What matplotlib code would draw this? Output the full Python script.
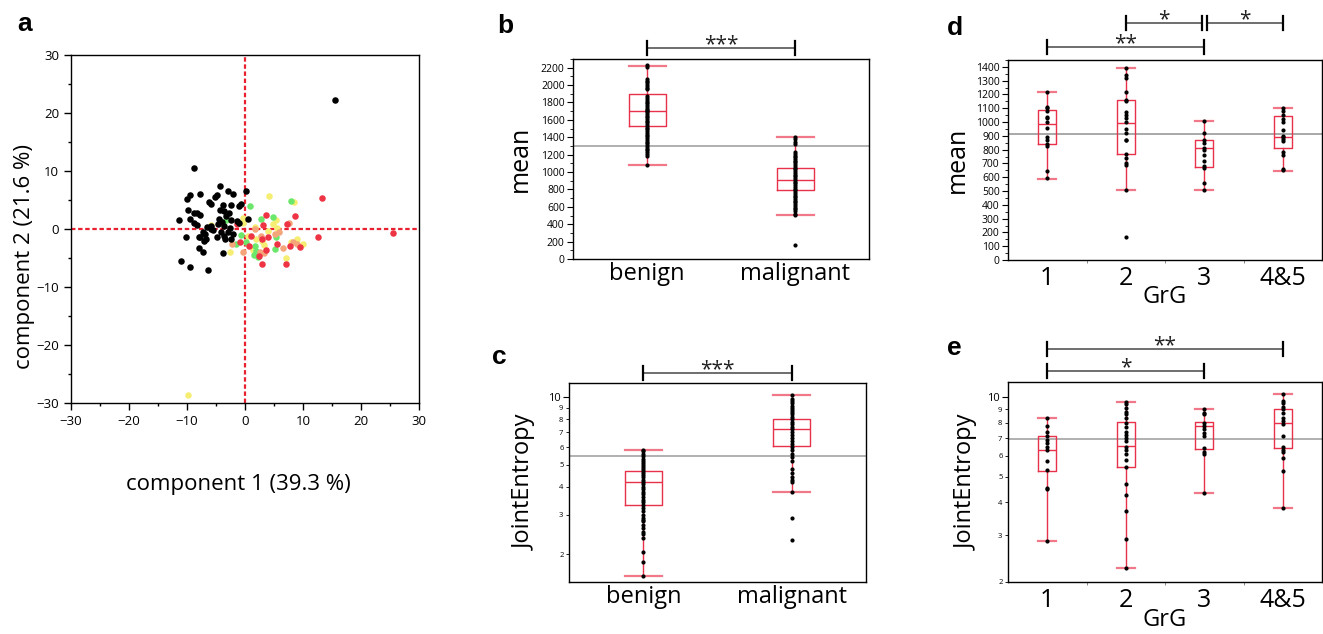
import matplotlib
matplotlib.use("Agg")
import matplotlib.pyplot as plt
from matplotlib.transforms import blended_transform_factory
from matplotlib.ticker import FixedLocator, MultipleLocator

plt.rcParams['font.family'] = ['Open Sans', 'DejaVu Sans']

# ---------------- Panel a data (PCA scores) ----------------
black_x = [15.6, -8.85, -4.25, 0.1, -2.9, -2.1, -4.8, -5.1, -7.8, -9.5, -10.0, -6.15, -5.9,
           -3.8, -2.4, -0.75, -1.0, -9.9, -8.8, -8.2, -7.8, -4.3, -3.6, -2.8, -11.4, -9.5,
           -4.5, -3.9, -2.4, -1.3, -1.0, 0.6, -8.8, -8.2, -6.6, -5.8, -3.6, -2.6, -5.6, -5.9,
           -7.2, -6.9, -7.9, -7.7, -10.1, -4.9, -3.7, -3.4, -2.5, -7.1, -6.7, -7.9, -7.2,
           -3.8, -11.0, -9.5, -6.4, -4.2, -3.0, -3.2, -4.6, -2.0]
black_y = [22.3, 10.6, 7.5, 6.55, 6.55, 6.0, 5.9, 5.5, 6.0, 5.8, 5.2, 4.7, 4.3,
           4.1, 4.2, 4.25, 4.0, 3.3, 2.8, 2.7, 2.5, 3.3, 3.1, 2.8, 1.6, 1.8,
           1.7, 1.2, 1.6, 1.4, 1.0, 1.8, 1.0, 0.75, 0.4, 0.5, 0.5, 0.2, -0.2, 0.0,
           -0.6, -0.9, -1.3, -1.4, -1.3, -1.3, -1.2, -1.7, -1.8, -2.1, -1.8, -3.3, -4.0,
           -4.2, -5.5, -6.5, -7.0, -0.6, -0.5, 2.2, 0.9, -0.9]
yellow_x = [4.1, 8.5, -0.35, -0.4, 1.8, 4.8, 5.4, 4.0, 5.6, 1.95, 3.0, 3.3, 1.4, -2.6,
            7.9, 9.0, 10.0, 7.1, -9.9, 0.5, -5.9]
yellow_y = [5.7, 4.65, 1.95, 1.0, 0.4, 0.9, 1.55, -0.35, 0.1, -1.65, -2.1, -2.8, -3.6, -4.0,
            -2.2, -1.8, -2.5, -5.0, -28.6, -1.2, 0.7]
green_x = [0.9, 7.9, 4.8, 2.8, -3.2, -0.7, 0.2, -1.6, 1.7, 1.95, 1.55, 2.2, 5.3, 5.1]
green_y = [3.9, 4.9, 2.1, 1.7, 1.5, -1.1, -2.2, -2.5, -2.9, -3.8, -4.4, -4.9, -1.4, -3.5]
orange_x = [1.8, 2.7, 5.2, 5.9, 7.5, -2.3, -0.35, 2.6, 3.3, 6.5, 8.2, 8.9]
orange_y = [-0.06, -1.2, -0.8, -0.5, 1.0, -2.5, -4.0, -4.0, -4.2, -3.3, -2.2, -2.5]
red_x = [13.2, 3.7, 8.7, 3.05, 7.3, 1.0, 2.9, 4.0, -0.9, 0.7, 3.7, 5.6, 7.7, 9.4, 2.4,
         2.9, 7.0, 12.5, 25.6, -1.3]
red_y = [5.4, 2.4, 2.3, 0.75, 0.8, -1.2, -1.8, -1.3, -2.2, -2.9, -3.6, -2.5, -2.9, -3.1,
         -4.7, -6.0, -6.0, -1.4, -0.7, 0.9]

# ---------------- Panel b data (mean, benign vs malignant) ----------------
bm_categories = ['benign', 'malignant']
b_benign = [2230, 2210, 2070, 2050, 2030, 2010, 1990, 1970, 1950, 1870, 1850, 1830, 1810,
            1790, 1770, 1750, 1730, 1710, 1700, 1690, 1670, 1650, 1630, 1610, 1590, 1570,
            1550, 1530, 1510, 1490, 1470, 1450, 1430, 1410, 1390, 1370, 1350, 1330, 1310,
            1290, 1270, 1250, 1230, 1210, 1180, 1080]
b_malignant = [1400, 1380, 1340, 1320, 1230, 1210, 1190, 1170, 1150, 1130, 1110, 1090,
               1070, 1050, 1030, 1010, 990, 970, 950, 930, 910, 890, 870, 850, 830, 810,
               790, 770, 750, 730, 710, 690, 670, 650, 630, 610, 590, 570, 550, 520, 510, 165]
b_stats = {  # q1, median, q3, whisker low, whisker high
    'benign': (1530, 1700, 1900, 1080, 2220),
    'malignant': (790, 910, 1050, 510, 1400),
}
b_grand_mean = 1300

# ---------------- Panel c data (JointEntropy, benign vs malignant) ----------------
c_benign = [5.85, 5.75, 5.6, 5.5, 5.3, 5.2, 5.1, 5.0, 4.9, 4.8, 4.7, 4.6, 4.5, 4.4, 4.3,
            4.2, 4.1, 4.0, 3.9, 3.8, 3.7, 3.6, 3.5, 3.4, 3.3, 3.2, 3.1, 3.0, 2.9, 2.85,
            2.8, 2.7, 2.6, 2.5, 2.45, 2.35, 2.05, 1.85, 1.6]
c_malignant = [10.3, 9.8, 9.6, 9.4, 9.2, 9.0, 8.8, 8.6, 8.4, 8.2, 8.0, 7.8, 7.6, 7.4, 7.2,
               7.0, 6.8, 6.6, 6.4, 6.2, 6.0, 5.8, 5.6, 5.4, 5.2, 4.8, 4.6, 4.4, 4.3, 4.2,
               3.8, 2.9, 2.3]
c_stats = {
    'benign': (3.3, 4.2, 4.7, 1.6, 5.85),
    'malignant': (6.1, 7.2, 8.0, 3.8, 10.3),
}
c_grand_mean = 5.47

# ---------------- Panel d data (mean by GrG) ----------------
grg_categories = ['1', '2', '3', '4&5']
d_values = {
    '1': [1215, 1110, 1100, 1080, 1040, 1030, 1000, 960, 890, 870, 840, 830, 645, 595],
    '2': [1395, 1340, 1320, 1220, 1160, 1150, 1070, 1050, 1030, 1000, 950, 920, 870, 870,
          770, 740, 700, 690, 510, 165],
    '3': [1010, 920, 870, 850, 810, 800, 760, 720, 680, 670, 560, 510],
    '4&5': [1100, 1080, 1050, 1020, 1000, 940, 900, 890, 880, 860, 780, 760, 660, 650],
}
d_stats = {
    '1': (840, 985, 1090, 590, 1215),
    '2': (765, 995, 1160, 510, 1395),
    '3': (675, 810, 870, 510, 1010),
    '4&5': (810, 895, 1045, 645, 1100),
}
d_grand_mean = 910

# ---------------- Panel e data (JointEntropy by GrG) ----------------
e_values = {
    '1': [8.3, 7.8, 7.4, 7.1, 6.9, 6.7, 6.5, 6.3, 5.75, 5.3, 4.55, 4.5, 2.85],
    '2': [9.6, 9.4, 9.1, 8.8, 8.6, 8.3, 8.0, 7.7, 7.4, 7.2, 7.0, 6.8, 6.5, 6.3, 6.1, 5.8,
          5.45, 4.7, 4.25, 3.7, 2.9, 2.25],
    '3': [9.05, 8.7, 8.6, 8.0, 7.8, 7.6, 7.3, 7.1, 6.4, 6.2, 6.1, 4.35],
    '4&5': [10.3, 9.7, 9.5, 9.2, 9.0, 8.7, 8.3, 8.1, 7.9, 7.1, 6.5, 6.3, 6.2, 5.9, 5.25, 3.8],
}
e_stats = {
    '1': (5.25, 6.3, 7.15, 2.85, 8.3),
    '2': (5.45, 6.55, 8.05, 2.25, 9.6),
    '3': (6.35, 7.75, 8.05, 4.35, 9.05),
    '4&5': (6.4, 8.0, 9.05, 3.8, 10.3),
}
e_grand_mean = 6.92

RED = '#E8324B'
PINK = '#F07888'
GRAY = '#AAAAAA'

W, H = 1323, 634
fig = plt.figure(figsize=(W / 100, H / 100), dpi=100)


def px_axes(l, t, r, b):
    return fig.add_axes([l / W, 1 - b / H, (r - l) / W, (b - t) / H])


def draw_boxes(ax, cats, stats, values, width):
    st = []
    for c in cats:
        q1, med, q3, lo, hi = stats[c]
        st.append(dict(med=med, q1=q1, q3=q3, whislo=lo, whishi=hi, fliers=[]))
    pos = list(range(len(cats)))
    ax.bxp(st, positions=pos, widths=width, capwidths=width, showfliers=False,
           boxprops=dict(color=RED, lw=1.0),
           medianprops=dict(color=RED, lw=1.0),
           whiskerprops=dict(color=RED, lw=1.0),
           capprops=dict(color=PINK, lw=1.6), zorder=2)
    for p, c in zip(pos, cats):
        ax.scatter([p] * len(values[c]), values[c], s=9, color='black', zorder=3,
                   linewidths=0)
    ax.set_xlim(-0.5, len(cats) - 0.5)
    ax.set_xticks(pos)
    ax.set_xticklabels(cats)


def bracket(ax, x1, x2, y, text, fs=15):
    tr = blended_transform_factory(ax.transData, ax.transAxes)
    ax.plot([x1, x2], [y, y], color='#555555', lw=1.2, transform=tr, clip_on=False)
    for x in (x1, x2):
        ax.plot([x, x], [y - 0.035, y + 0.035], color='black', lw=1.6, transform=tr,
                clip_on=False)
    ax.text((x1 + x2) / 2, y - 0.035, text, ha='center', va='bottom', transform=tr,
            fontsize=fs, color='#222222')


# ---------------- Panel a ----------------
axa = px_axes(71, 55, 419, 403)
axa.axhline(0, color='#E8202F', ls=(0, (2, 1.2)), lw=1.6, zorder=1)
axa.axvline(0, color='#E8202F', ls=(0, (2, 1.2)), lw=1.6, zorder=1)
ms = 22
axa.scatter(black_x, black_y, s=ms, color='black', linewidths=0, zorder=3)
axa.scatter(yellow_x, yellow_y, s=ms, color='#F6EE72', linewidths=0, zorder=2)
axa.scatter(green_x, green_y, s=ms, color='#6BE86B', linewidths=0, zorder=2)
axa.scatter(orange_x, orange_y, s=ms, color='#F4A57A', linewidths=0, zorder=2)
axa.scatter(red_x, red_y, s=ms, color='#EE3344', linewidths=0, zorder=2)
axa.set_xlim(-30, 30)
axa.set_ylim(-30, 30)
axa.xaxis.set_major_locator(MultipleLocator(10))
axa.yaxis.set_major_locator(MultipleLocator(10))
axa.xaxis.set_minor_locator(MultipleLocator(5))
axa.yaxis.set_minor_locator(MultipleLocator(5))
axa.tick_params(which='major', length=5, labelsize=9.5, width=1)
axa.tick_params(which='minor', length=2.5, width=1)
axa.set_xlabel('component 1 (39.3 %)', fontsize=16)
axa.set_ylabel('component 2 (21.6 %)', fontsize=16)
axa.xaxis.set_label_coords(0.48, -0.233)
axa.yaxis.set_label_coords(-0.135, 0.42)
axa.xaxis.label.set_va('center')
axa.yaxis.label.set_va('center')
axa.yaxis.label.set_ha('center')

# ---------------- Panel b ----------------
axb = px_axes(573, 59, 869, 259)
axb.axhline(b_grand_mean, color=GRAY, lw=1.3, zorder=1)
draw_boxes(axb, bm_categories, b_stats, {'benign': b_benign, 'malignant': b_malignant}, 0.25)
axb.set_ylim(0, 2300)
axb.yaxis.set_major_locator(MultipleLocator(200))
axb.yaxis.set_minor_locator(MultipleLocator(100))
axb.tick_params(axis='y', which='major', length=4, labelsize=7.5, pad=2)
axb.tick_params(axis='y', which='minor', length=2)
axb.tick_params(axis='x', length=0, labelsize=17, pad=2)
axb.set_ylabel('mean', fontsize=18, labelpad=6)
bracket(axb, 0, 1, 1.055, '***')

# ---------------- Panel c ----------------
axc = px_axes(569, 383, 866, 582)
axc.set_yscale('log')
axc.axhline(c_grand_mean, color=GRAY, lw=1.3, zorder=1)
draw_boxes(axc, bm_categories, c_stats, {'benign': c_benign, 'malignant': c_malignant}, 0.25)
axc.set_ylim(1.5, 11.6)
axc.yaxis.set_major_locator(FixedLocator([10]))
axc.yaxis.set_minor_locator(FixedLocator([2, 3, 4, 5, 6, 7, 8, 9]))
axc.yaxis.set_major_formatter(matplotlib.ticker.FixedFormatter(['10']))
axc.yaxis.set_minor_formatter(matplotlib.ticker.FuncFormatter(lambda v, p: '%d' % round(v)))
axc.tick_params(axis='y', which='major', length=4, labelsize=8, pad=2)
axc.tick_params(axis='y', which='minor', length=2, labelsize=5.5, pad=2)
axc.tick_params(axis='x', length=0, labelsize=17, pad=2)
axc.set_ylabel('JointEntropy', fontsize=17, labelpad=8)
bracket(axc, 0, 1, 1.049, '***')

# ---------------- Panel d ----------------
axd = px_axes(1008, 60, 1322, 260)
axd.axhline(d_grand_mean, color='#999999', lw=1.2, zorder=1)
draw_boxes(axd, grg_categories, d_stats, d_values, 0.23)
axd.set_ylim(0, 1450)
axd.yaxis.set_major_locator(MultipleLocator(100))
axd.yaxis.set_minor_locator(MultipleLocator(50))
axd.xaxis.set_minor_locator(FixedLocator([0.5, 1.5, 2.5]))
axd.tick_params(axis='y', which='major', length=4, labelsize=7.5, pad=2)
axd.tick_params(axis='y', which='minor', length=2)
axd.tick_params(axis='x', which='major', length=0, labelsize=18, pad=4)
axd.tick_params(axis='x', which='minor', length=2, color='#777777')
axd.set_ylabel('mean', fontsize=18, labelpad=4)
axd.set_xlabel('GrG', fontsize=17, labelpad=-4)
bracket(axd, 1, 1.97, 1.185, '*')
bracket(axd, 2.03, 3, 1.185, '*')
bracket(axd, 0, 2, 1.065, '**')

# ---------------- Panel e ----------------
axe = px_axes(1008, 382, 1322, 582)
axe.set_yscale('log')
axe.axhline(e_grand_mean, color=GRAY, lw=1.3, zorder=1)
draw_boxes(axe, grg_categories, e_stats, e_values, 0.23)
axe.set_ylim(2, 11.4)
axe.yaxis.set_major_locator(FixedLocator([10]))
axe.yaxis.set_minor_locator(FixedLocator([2, 3, 4, 5, 6, 7, 8, 9]))
axe.yaxis.set_major_formatter(matplotlib.ticker.FixedFormatter(['10']))
axe.yaxis.set_minor_formatter(matplotlib.ticker.FuncFormatter(lambda v, p: '%d' % round(v)))
axe.xaxis.set_minor_locator(FixedLocator([0.5, 1.5, 2.5]))
axe.tick_params(axis='y', which='major', length=4, labelsize=8, pad=2)
axe.tick_params(axis='y', which='minor', length=2, labelsize=5.5, pad=2)
axe.tick_params(axis='x', which='major', length=0, labelsize=18, pad=4)
axe.tick_params(axis='x', which='minor', length=2, color='#777777')
axe.set_ylabel('JointEntropy', fontsize=17, labelpad=6)
axe.set_xlabel('GrG', fontsize=17, labelpad=-3)
bracket(axe, 0, 3, 1.165, '**')
bracket(axe, 0, 2, 1.053, '*')

for ax in (axa, axb, axc, axd, axe):
    for s in ax.spines.values():
        s.set_linewidth(1.0)

# panel letters
for letter, x, y in [('a', 17, 24), ('b', 497, 26), ('c', 492, 357), ('d', 947, 28), ('e', 947, 348)]:
    fig.text(x / W, 1 - y / H, letter, fontsize=19, fontweight='bold',
             family=['Liberation Sans', 'DejaVu Sans'], va='center', ha='left')

fig.savefig('out.png', dpi=100)
